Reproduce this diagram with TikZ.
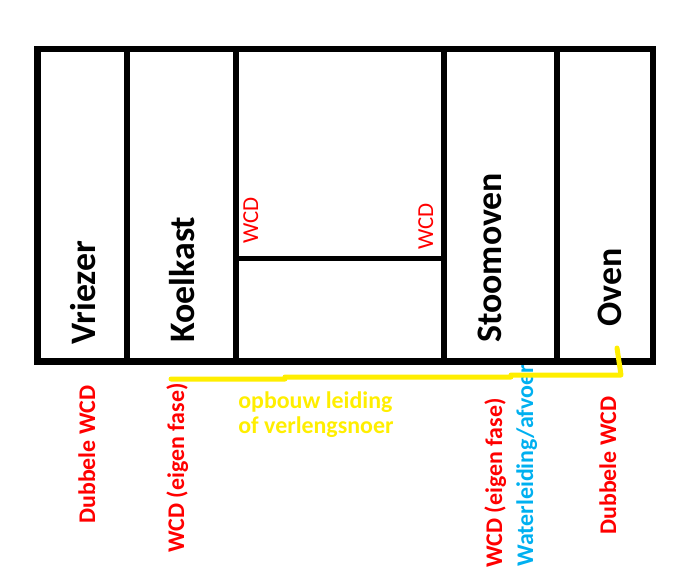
\documentclass[tikz,border=0pt]{standalone}
\usepackage{fontspec}
\setmainfont{Carlito}
\usepackage{tikz}
\definecolor{wcdred}{RGB}{255, 0, 0}
\definecolor{pipeblue}{RGB}{0, 176, 240}
\definecolor{cordyellow}{RGB}{255, 238, 0}
\tikzset{
  appliance/.style={rotate=90, anchor=base west, inner sep=0pt, font=\fontsize{20.4}{24}\selectfont\bfseries},
  socket/.style={rotate=90, anchor=base west, inner sep=0pt, color=wcdred, font=\fontsize{13}{16}\selectfont},
  outlet/.style={rotate=90, anchor=base west, inner sep=0pt, font=\fontsize{13.6}{16}\selectfont\bfseries},
  cordtext/.style={anchor=base west, inner sep=0pt, color=cordyellow, font=\fontsize{13.6}{16}\selectfont\bfseries}
}

\begin{document}
\begin{tikzpicture}
            % Frame to ensure alignment:
            \useasboundingbox                                          ( 0.00,  0.00) rectangle (13.48, -11.66);
            % Labels below the cabinets:
            \node[outlet,   color=wcdred]   (dubbeleL)  at ( 1.90, -10.48) {Dubbele WCD};
            \node[outlet,   color=wcdred]   (eigenL)    at ( 3.68, -11.06) {WCD (eigen fase)};
            \node[outlet,   color=wcdred]   (eigenR)    at (10.04, -11.36) {WCD (eigen fase)};
            \node[outlet,   color=pipeblue] (water)     at (10.66, -11.34) {Waterleiding/afvoer};
            \node[outlet,   color=wcdred]   (dubbeleR)  at (12.32, -10.70) {Dubbele WCD};
            \node[cordtext]                 (opbouw)    at ( 4.76,  -8.16) {opbouw leiding};
            \node[cordtext]                 (verleng)   at ( 4.76,  -8.66) {of verlengsnoer};
            % Cabinets:
            \draw[line width=0.13cm]                                   ( 0.75, -0.98) rectangle (13.06, -7.23);
            \foreach \x in {2.53, 4.71, 8.87, 11.13}
                \draw[line width=0.12cm]                               (\x, -0.98) -- (\x, -7.23);
            \draw[line width=0.10cm]                                   ( 4.71, -5.17) -- ( 8.87, -5.17);
            \node[appliance]                (vriezer)   at ( 1.90,  -6.90) {Vriezer};
            \node[appliance]                (koelkast)  at ( 3.88,  -6.86) {Koelkast};
            \node[appliance]                (stoomoven) at (10.02,  -6.86) {Stoomoven};
            \node[appliance]                (oven)      at (12.42,  -6.54) {Oven};
            \node[socket]                   (wcdL)      at ( 5.16,  -4.88) {WCD};
            \node[socket]                   (wcdR)      at ( 8.66,  -5.00) {WCD};
            % Cord from the oven:
            \coordinate (cordstart) at ( 3.42, -7.58);
            \coordinate (cordend)   at (12.34, -6.96);
            \draw[cordyellow, line width=0.10cm, line join=round, line cap=round]
                 (cordstart) -- ( 5.70, -7.58) -- ( 5.70, -7.54) -- (10.22, -7.54)
                 -- (10.22, -7.50) -- (12.42, -7.50) -- (cordend);
        \end{tikzpicture}
\end{document}
